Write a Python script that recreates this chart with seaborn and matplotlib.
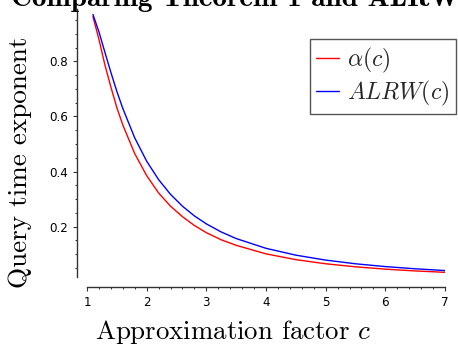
import matplotlib
matplotlib.use("Agg")
import matplotlib.pyplot as plt
import numpy as np
import pandas as pd
import seaborn as sns
from matplotlib.ticker import FixedLocator, MultipleLocator

# ---- data ----
c_values = [1.1, 1.2, 1.3, 1.4, 1.5, 1.6, 1.8, 2.0, 2.2, 2.4, 2.6, 2.8, 3.0,
            3.25, 3.5, 4.0, 4.5, 5.0, 5.5, 6.0, 6.5, 7.0]
alpha_values = [0.962, 0.880, 0.787, 0.707, 0.632, 0.569, 0.465, 0.385, 0.322,
                0.274, 0.236, 0.204, 0.178, 0.152, 0.132, 0.101, 0.080, 0.065,
                0.054, 0.0455, 0.039, 0.034]
alrw_values = [0.970, 0.907, 0.833, 0.760, 0.691, 0.629, 0.522, 0.4375, 0.3705,
               0.317, 0.274, 0.2388, 0.2099, 0.1804, 0.1566, 0.1211, 0.0963,
               0.0784, 0.0650, 0.0548, 0.0468, 0.0404]
series_labels = [r"$\alpha(c)$", r"$ALRW(c)$"]
x_ticks = [1, 2, 3, 4, 5, 6, 7]
x_tick_labels = ["1", "2", "3", "4", "5", "6", "7"]
y_ticks = [0.2, 0.4, 0.6, 0.8]
y_tick_labels = ["0.2", "0.4", "0.6", "0.8"]
title_text = "Comparing Theorem 1 and ALRW"
xlabel_text = r"Approximation factor $c$"
ylabel_text = "Query time exponent"

sns.set_theme(style="white")
plt.rcParams["font.family"] = ["DejaVu Sans"]
plt.rcParams["mathtext.fontset"] = "cm"

W, H = 458, 344
fig = plt.figure(figsize=(W / 100, H / 100), dpi=100)
ax = fig.add_axes([87 / W, 1 - 277 / H, (445 - 87) / W, (277 - 9) / H])

df = pd.DataFrame({
    "c": c_values + c_values,
    "value": alpha_values + alrw_values,
    "series": [series_labels[0]] * len(c_values) + [series_labels[1]] * len(c_values),
})
sns.lineplot(data=df, x="c", y="value", hue="series",
             palette=["#ff0000", "#0000ff"], linewidth=1.0, ax=ax,
             legend=False, estimator=None, sort=False)

ax.set_xlim(1, 7)
ax.set_ylim(0.017, 0.99)
ax.set_xlabel("")
ax.set_ylabel("")

ax.xaxis.set_major_locator(FixedLocator(x_ticks))
ax.set_xticklabels(x_tick_labels)
ax.xaxis.set_minor_locator(MultipleLocator(0.2))
ax.yaxis.set_major_locator(FixedLocator(y_ticks))
ax.set_yticklabels(y_tick_labels)
ax.yaxis.set_minor_locator(MultipleLocator(0.05))

spine_col = "#333333"
for s in ["top", "right"]:
    ax.spines[s].set_visible(False)
for s in ["left", "bottom"]:
    ax.spines[s].set_visible(True)
    ax.spines[s].set_color(spine_col)
    ax.spines[s].set_linewidth(1.0)
    ax.spines[s].set_position(("outward", 7.2))

ax.tick_params(axis="both", which="major", direction="out", length=3,
               width=0.8, color=spine_col, labelsize=8.6, pad=3.5,
               labelcolor="black", bottom=True, left=True)
ax.tick_params(axis="both", which="minor", direction="out", length=1.6,
               width=0.7, color=spine_col, bottom=True, left=True)

lines = ax.get_lines()
leg = ax.legend(lines[:2], series_labels, loc="upper right",
                bbox_to_anchor=(456 / W, 1 - 39 / H),
                bbox_transform=fig.transFigure, borderaxespad=0,
                fontsize=17, frameon=True, fancybox=False,
                edgecolor="#555555", handlelength=0.95, handletextpad=0.35,
                borderpad=0.28, labelspacing=0.17)
leg.get_frame().set_linewidth(1.0)
leg.get_frame().set_facecolor("white")
leg.get_frame().set_alpha(1)

fig.text(11 / W, 1 - 5.5 / H, title_text, family="cmb10", fontsize=21,
         ha="left", va="baseline", color="black")
fig.text(233 / W, 1 - 339 / H, xlabel_text, family="cmr10", fontsize=19.3,
         ha="center", va="baseline", color="black")
fig.text(20 / W, 1 - 162.5 / H, ylabel_text, family="cmr10", fontsize=19.6,
         rotation=90, ha="center", va="center", color="black")

fig.savefig("out.png", dpi=100)
